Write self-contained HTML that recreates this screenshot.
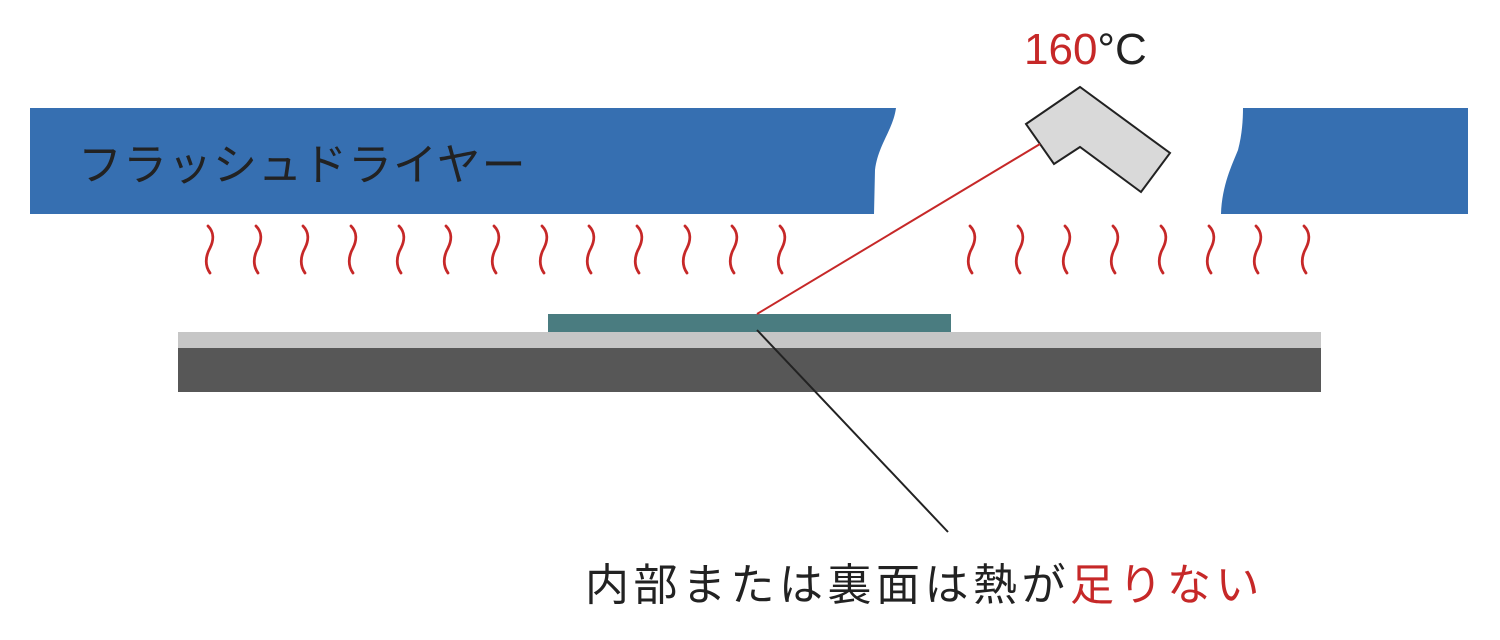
<!DOCTYPE html>
<html><head><meta charset="utf-8"><style>
html,body{margin:0;padding:0;background:#fff;width:1500px;height:640px;overflow:hidden}
svg{display:block}
text{font-family:"Liberation Sans","Noto Sans CJK JP",sans-serif}
</style></head><body>
<svg width="1500" height="640" viewBox="0 0 1500 640" xmlns="http://www.w3.org/2000/svg">
<defs>
<path id="sq" d="M0,0 C6,6 6,14 2,22 C-3,31 -3,40 2,47" fill="none" stroke="#c62828" stroke-width="2.8" stroke-linecap="round"/>
</defs>
<path d="M30,108 L896,108 C893,130 878,145 875,170 L874,214 L30,214 Z" fill="#366fb1"/>
<path d="M1243,108 L1468,108 L1468,214 L1221,214 C1222,185 1232,165 1238,150 C1242,135 1243,120 1243,108 Z" fill="#366fb1"/>
<text x="78" y="180" font-size="44" fill="#222" letter-spacing="1">フラッシュドライヤー</text>
<text x="1024" y="64" font-size="44" fill="#c62828">160<tspan fill="#222">°C</tspan></text>
<polygon points="1026,124 1080,87 1170,153 1141,192 1080,147 1054,164" fill="#d9d9d9" stroke="#222" stroke-width="2"/>
<g>
<use href="#sq" x="208" y="226"/><use href="#sq" x="256" y="226"/><use href="#sq" x="303" y="226"/><use href="#sq" x="351" y="226"/><use href="#sq" x="399" y="226"/><use href="#sq" x="446" y="226"/><use href="#sq" x="494" y="226"/><use href="#sq" x="542" y="226"/><use href="#sq" x="589" y="226"/><use href="#sq" x="637" y="226"/><use href="#sq" x="685" y="226"/><use href="#sq" x="732" y="226"/><use href="#sq" x="780" y="226"/>
<use href="#sq" x="970" y="226"/><use href="#sq" x="1018" y="226"/><use href="#sq" x="1065" y="226"/><use href="#sq" x="1113" y="226"/><use href="#sq" x="1161" y="226"/><use href="#sq" x="1209" y="226"/><use href="#sq" x="1256" y="226"/><use href="#sq" x="1304" y="226"/>
</g>
<rect x="178" y="332" width="1143" height="17" fill="#c6c6c6"/>
<rect x="178" y="348" width="1143" height="44" fill="#575757"/>
<rect x="548" y="314" width="403" height="18" fill="#4a7c80"/>
<line x1="1040" y1="144" x2="757" y2="314" stroke="#c62828" stroke-width="2"/>
<line x1="757" y1="330" x2="948" y2="532" stroke="#222" stroke-width="2"/>
<text x="585" y="600" font-size="44" fill="#222" letter-spacing="4.5">内部または裏面は熱が<tspan fill="#c62828">足りない</tspan></text>
</svg>
</body></html>
